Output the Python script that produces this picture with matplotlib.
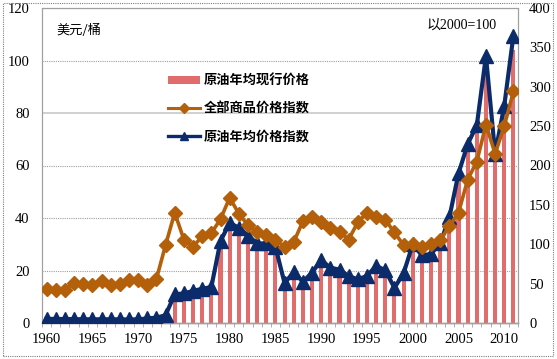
import numpy as np
import matplotlib
matplotlib.use("Agg")
import matplotlib.pyplot as plt
from matplotlib.lines import Line2D
from matplotlib.patches import Patch, Rectangle

# =========================
# Data
# =========================
years = list(range(1960, 2012))

# crude oil, nominal annual average (USD / barrel) - left axis
oil_price = [1.50, 1.45, 1.42, 1.40, 1.33, 1.33, 1.33, 1.33, 1.32, 1.27,
             1.30, 1.65, 1.90, 2.83, 10.41, 10.70, 11.63, 12.38, 13.03, 29.75,
             35.69, 34.28, 31.76, 28.77, 28.78, 27.56, 14.43, 18.44, 14.92, 18.23,
             23.73, 20.00, 19.32, 16.97, 15.82, 17.02, 20.67, 19.09, 12.72, 17.97,
             28.50, 24.44, 25.02, 28.83, 38.27, 54.52, 65.14, 72.39, 97.26, 61.67,
             79.50, 104.0]

# all commodities price index (2000=100) - right axis
commodity_idx = [43, 42, 42, 51, 50, 48, 53, 48, 49, 54,
                 54, 48, 56, 99, 140, 106, 97, 110, 114, 132,
                 159, 139, 124, 116, 112, 105, 97, 103, 129, 135,
                 128, 121, 116, 106, 128, 140, 134, 131, 115, 99,
                 100, 96, 100, 105, 123, 140, 182, 205, 252, 215,
                 250, 294]

# crude oil price index (2000=100) - right axis
oil_idx = [5.3, 5.1, 5.0, 4.9, 4.7, 4.7, 4.7, 4.7, 4.6, 4.5,
           4.6, 5.8, 6.7, 9.9, 36.5, 37.5, 40.8, 43.4, 45.7, 104,
           127, 121, 111, 101, 101, 96.7, 50.6, 64.7, 52.4, 64.0,
           80.0, 70.2, 67.8, 59.5, 55.5, 59.7, 72.5, 67.0, 44.6, 63.1,
           100, 85.8, 87.8, 101, 134, 190, 227, 251, 339, 215,
           276, 365]

tick_years = list(range(1960, 2011, 5))

bar_color = "#E06C6C"
orange = "#B45F0A"
navy = "#0C2B6B"
serif_cjk = ["Liberation Serif", "Noto Sans CJK SC"]
cjk = ["Noto Sans CJK SC", "DejaVu Sans"]

# =========================
# Plot
# =========================
fig = plt.figure(figsize=(5.57, 3.59), dpi=100)
ax = fig.add_axes([42 / 557, 1 - 323 / 359, 476 / 557, 315 / 359])
ax2 = ax.twinx()

x = np.arange(len(years))

ax.bar(x, oil_price, width=0.45, color=bar_color, edgecolor="none", zorder=2)

ax.set_xlim(-0.5, len(years) - 0.5)
ax.set_ylim(0, 120)
ax.set_yticks(range(0, 121, 20))
ax2.set_ylim(0, 400)
ax2.set_yticks(range(0, 401, 50))

# gridlines
for v in range(20, 121, 20):
    if v == 80:
        ax.axhline(v, color="#C8C8C8", lw=1.2, zorder=1)
    else:
        ax.axhline(v, color="#A0A0A0", lw=0.8, ls=(0, (1, 1)), zorder=1)

ax2.plot(x, oil_idx, color=navy, lw=3.0, marker="^", ms=10,
         mec=navy, mfc=navy, zorder=3)
ax2.plot(x, commodity_idx, color=orange, lw=2.6, marker="D", ms=7.5,
         mec=orange, mfc=orange, zorder=4)

ax.set_xticks([years.index(y) for y in tick_years])
ax.set_xticklabels([str(y) for y in tick_years])
ax.set_xticks(np.arange(len(years) + 1) - 0.5, minor=True)

for a in (ax, ax2):
    for lab in a.get_xticklabels() + a.get_yticklabels():
        lab.set_family(serif_cjk)
        lab.set_fontsize(10.5)
ax.tick_params(axis="x", which="major", length=0, pad=7)
ax.tick_params(axis="x", which="minor", length=3, color="#A0A0A0")
ax.tick_params(axis="y", length=0, pad=9)
ax2.tick_params(axis="y", length=0, pad=8)

for a in (ax, ax2):
    for side in ("left", "top", "right"):
        a.spines[side].set_color("#A0A0A0")
        a.spines[side].set_linestyle((0, (1, 1)))
        a.spines[side].set_linewidth(0.8)
    a.spines["bottom"].set_color("#A0A0A0")
    a.spines["bottom"].set_linewidth(1.0)

ax2.set_zorder(ax.get_zorder() + 1)
ax2.patch.set_visible(False)

# texts
ax.text(0.03, 0.93, "美元/桶", transform=ax.transAxes, fontsize=9.5,
        family=cjk, va="center", ha="left")
ax.text(0.955, 0.945, "以2000=100", transform=ax.transAxes, fontsize=10,
        family=serif_cjk, va="center", ha="right")

handles = [
    Patch(facecolor=bar_color, edgecolor="none"),
    Line2D([], [], color=orange, lw=2.2, marker="D", ms=5),
    Line2D([], [], color=navy, lw=2.4, marker="^", ms=6),
]
labels = ["原油年均现行价格", "全部商品价格指数", "原油年均价格指数"]
leg = fig.legend(handles, labels, loc="upper left",
                 bbox_to_anchor=(156 / 557, 1 - 62 / 359), frameon=False,
                 handlelength=2.4, handleheight=0.6, handletextpad=0.3,
                 labelspacing=1.05,
                 prop={"family": cjk, "size": 9.5, "weight": "bold"})

# dotted outer border of the chart area
fig.patches.append(Rectangle((3 / 557, 3 / 359), 550 / 557, 353 / 359,
                             transform=fig.transFigure, fill=False,
                             edgecolor="#808080", lw=0.8, ls=(0, (1, 1))))

fig.savefig("out.png", dpi=100)
